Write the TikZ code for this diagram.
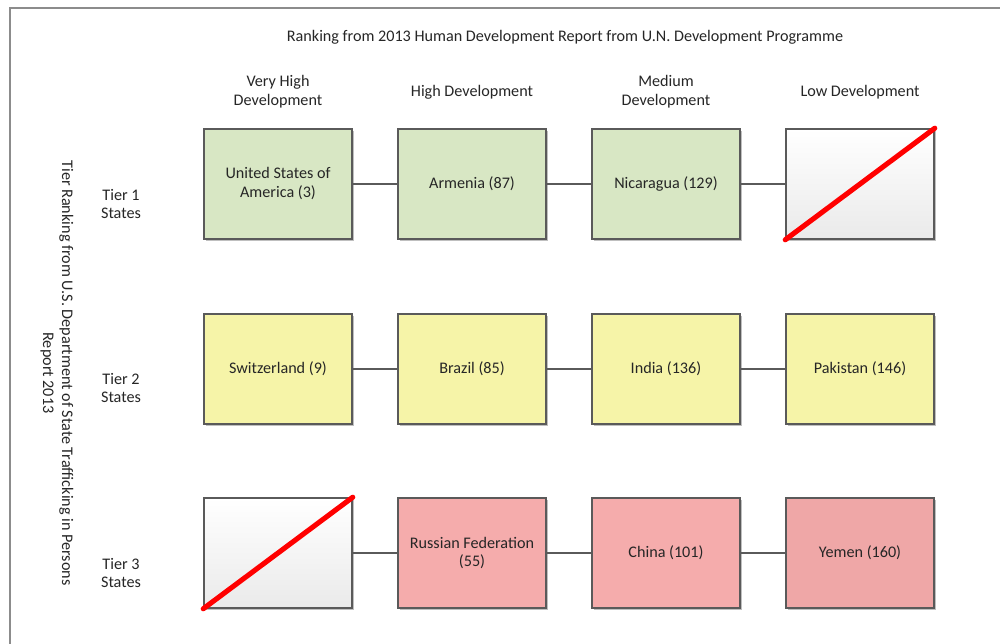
\documentclass[tikz,border=0pt]{standalone}
\usepackage{fontspec}
\setmainfont{Carlito}
\usetikzlibrary{shadows}
\definecolor{txt}{HTML}{262626}
\definecolor{edge}{HTML}{5A5A5A}
\definecolor{frame}{HTML}{8C8C8C}
\definecolor{gfill}{HTML}{D8E7C4}
\definecolor{yfill}{HTML}{F6F4A8}
\definecolor{rfill}{HTML}{F5ACAC}
\definecolor{rfilldark}{HTML}{EFA7A7}
\definecolor{emptybot}{HTML}{EAEAEA}
\tikzset{
  cbox/.style={draw=edge, line width=0.9pt, minimum width=2.96cm, minimum height=2.2cm,
    inner sep=2pt, align=center, text=txt, font=\fontsize{9.2}{10.8}\selectfont,
    drop shadow={shadow xshift=1.2pt, shadow yshift=-1.2pt, opacity=0.25, fill=black}},
  gbox/.style={cbox, fill=gfill},
  ybox/.style={cbox, fill=yfill},
  rbox/.style={cbox, fill=rfill},
  ebox/.style={cbox, top color=white, bottom color=emptybot},
  lbl/.style={align=center, text=txt, font=\fontsize{9.2}{10.8}\selectfont, inner sep=0pt},
  link/.style={draw=edge, line width=0.6pt},
  cross/.style={draw=red, line width=2.9pt, line cap=round},
  framel/.style={draw=frame, line width=1.3pt}
}
\begin{document}
\begin{tikzpicture}[x=0.02cm, y=-0.02cm]
\useasboundingbox (0,0) rectangle (1000,644);
\fill[white] (0,0) rectangle (1000,644);
% frame
\coordinate (fa) at (10,644);
\coordinate (fb) at (10,8);
\coordinate (fc) at (1000,8);
\draw[framel] (fa) -- (fb) -- (fc);
% titles
\node[lbl] (title) at (565,37) {Ranking from 2013 Human Development Report from U.N. Development Programme};
\node[lbl] (h1) at (278,92) {Very High\\Development};
\node[lbl] (h2) at (472,92) {High Development};
\node[lbl] (h3) at (666,92) {Medium\\Development};
\node[lbl] (h4) at (860,92) {Low Development};
\node[lbl, rotate=-90] (side) at (57,373) {Tier Ranking from U.S. Department of State Trafficking in Persons\\Report 2013};
\node[lbl] (t1) at (121,204) {Tier 1\\States};
\node[lbl] (t2) at (121,388) {Tier 2\\States};
\node[lbl] (t3) at (121,573) {Tier 3\\States};
% row 1
\node[gbox] (r1c1) at (278,184) {United States of\\America (3)};
\node[gbox] (r1c2) at (472,184) {Armenia (87)};
\node[gbox] (r1c3) at (666,184) {Nicaragua (129)};
\node[ebox] (r1c4) at (860,184) {};
% row 2
\node[ybox] (r2c1) at (278,369) {Switzerland (9)};
\node[ybox] (r2c2) at (472,369) {Brazil (85)};
\node[ybox] (r2c3) at (666,369) {India (136)};
\node[ybox] (r2c4) at (860,369) {Pakistan (146)};
% row 3
\node[ebox] (r3c1) at (278,553) {};
\node[rbox] (r3c2) at (472,553) {Russian Federation\\(55)};
\node[rbox] (r3c3) at (666,553) {China (101)};
\node[rbox, fill=rfilldark] (r3c4) at (860,553) {Yemen (160)};
% connectors
\draw[link] (r1c1) -- (r1c2);
\draw[link] (r1c2) -- (r1c3);
\draw[link] (r1c3) -- (r1c4);
\draw[link] (r2c1) -- (r2c2);
\draw[link] (r2c2) -- (r2c3);
\draw[link] (r2c3) -- (r2c4);
\draw[link] (r3c1) -- (r3c2);
\draw[link] (r3c2) -- (r3c3);
\draw[link] (r3c3) -- (r3c4);
% crosses
\draw[cross] (r1c4.south west) -- (r1c4.north east);
\draw[cross] (r3c1.south west) -- (r3c1.north east);
\end{tikzpicture}
\end{document}
